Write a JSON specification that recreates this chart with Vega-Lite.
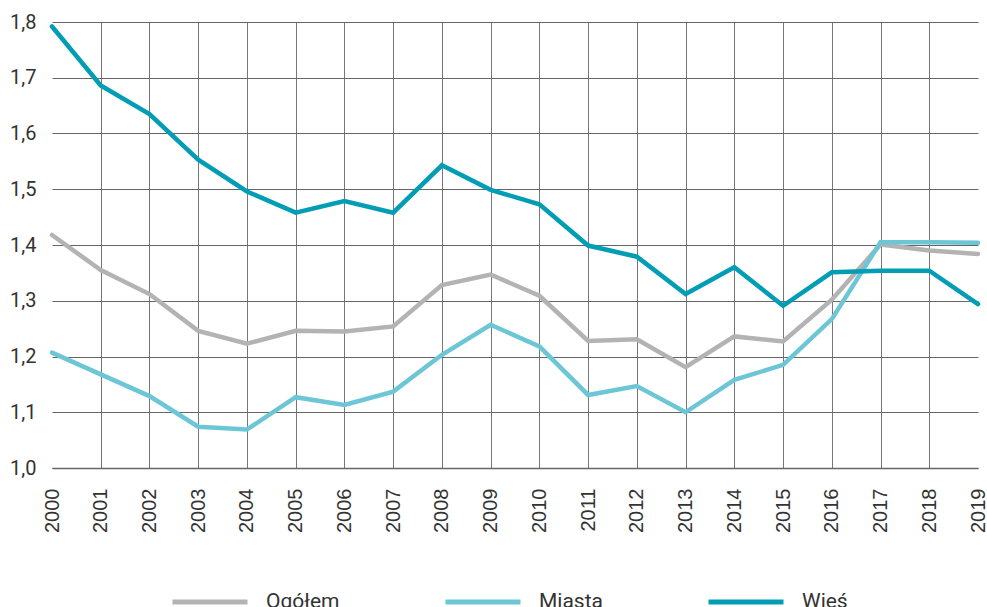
{
  "$schema": "https://vega.github.io/schema/vega-lite/v6.json",
  "autosize": {"type": "none"},
  "padding": {"left": 52, "top": 22, "right": 9, "bottom": 139},
  "width": 926,
  "height": 446,
  "background": "white",
  "data": {
    "values": [
      {"rok": 2000, "seria": "Ogółem", "wartosc": 1.418},
      {"rok": 2001, "seria": "Ogółem", "wartosc": 1.355},
      {"rok": 2002, "seria": "Ogółem", "wartosc": 1.312},
      {"rok": 2003, "seria": "Ogółem", "wartosc": 1.246},
      {"rok": 2004, "seria": "Ogółem", "wartosc": 1.223},
      {"rok": 2005, "seria": "Ogółem", "wartosc": 1.246},
      {"rok": 2006, "seria": "Ogółem", "wartosc": 1.245},
      {"rok": 2007, "seria": "Ogółem", "wartosc": 1.254},
      {"rok": 2008, "seria": "Ogółem", "wartosc": 1.328},
      {"rok": 2009, "seria": "Ogółem", "wartosc": 1.347},
      {"rok": 2010, "seria": "Ogółem", "wartosc": 1.309},
      {"rok": 2011, "seria": "Ogółem", "wartosc": 1.228},
      {"rok": 2012, "seria": "Ogółem", "wartosc": 1.231},
      {"rok": 2013, "seria": "Ogółem", "wartosc": 1.181},
      {"rok": 2014, "seria": "Ogółem", "wartosc": 1.236},
      {"rok": 2015, "seria": "Ogółem", "wartosc": 1.227},
      {"rok": 2016, "seria": "Ogółem", "wartosc": 1.302},
      {"rok": 2017, "seria": "Ogółem", "wartosc": 1.401},
      {"rok": 2018, "seria": "Ogółem", "wartosc": 1.390},
      {"rok": 2019, "seria": "Ogółem", "wartosc": 1.384},
      {"rok": 2000, "seria": "Miasta", "wartosc": 1.207},
      {"rok": 2001, "seria": "Miasta", "wartosc": 1.168},
      {"rok": 2002, "seria": "Miasta", "wartosc": 1.129},
      {"rok": 2003, "seria": "Miasta", "wartosc": 1.074},
      {"rok": 2004, "seria": "Miasta", "wartosc": 1.069},
      {"rok": 2005, "seria": "Miasta", "wartosc": 1.127},
      {"rok": 2006, "seria": "Miasta", "wartosc": 1.113},
      {"rok": 2007, "seria": "Miasta", "wartosc": 1.137},
      {"rok": 2008, "seria": "Miasta", "wartosc": 1.203},
      {"rok": 2009, "seria": "Miasta", "wartosc": 1.257},
      {"rok": 2010, "seria": "Miasta", "wartosc": 1.218},
      {"rok": 2011, "seria": "Miasta", "wartosc": 1.131},
      {"rok": 2012, "seria": "Miasta", "wartosc": 1.147},
      {"rok": 2013, "seria": "Miasta", "wartosc": 1.100},
      {"rok": 2014, "seria": "Miasta", "wartosc": 1.158},
      {"rok": 2015, "seria": "Miasta", "wartosc": 1.185},
      {"rok": 2016, "seria": "Miasta", "wartosc": 1.267},
      {"rok": 2017, "seria": "Miasta", "wartosc": 1.405},
      {"rok": 2018, "seria": "Miasta", "wartosc": 1.405},
      {"rok": 2019, "seria": "Miasta", "wartosc": 1.404},
      {"rok": 2000, "seria": "Wieś", "wartosc": 1.792},
      {"rok": 2001, "seria": "Wieś", "wartosc": 1.686},
      {"rok": 2002, "seria": "Wieś", "wartosc": 1.635},
      {"rok": 2003, "seria": "Wieś", "wartosc": 1.553},
      {"rok": 2004, "seria": "Wieś", "wartosc": 1.496},
      {"rok": 2005, "seria": "Wieś", "wartosc": 1.458},
      {"rok": 2006, "seria": "Wieś", "wartosc": 1.479},
      {"rok": 2007, "seria": "Wieś", "wartosc": 1.458},
      {"rok": 2008, "seria": "Wieś", "wartosc": 1.543},
      {"rok": 2009, "seria": "Wieś", "wartosc": 1.499},
      {"rok": 2010, "seria": "Wieś", "wartosc": 1.473},
      {"rok": 2011, "seria": "Wieś", "wartosc": 1.399},
      {"rok": 2012, "seria": "Wieś", "wartosc": 1.379},
      {"rok": 2013, "seria": "Wieś", "wartosc": 1.312},
      {"rok": 2014, "seria": "Wieś", "wartosc": 1.360},
      {"rok": 2015, "seria": "Wieś", "wartosc": 1.291},
      {"rok": 2016, "seria": "Wieś", "wartosc": 1.351},
      {"rok": 2017, "seria": "Wieś", "wartosc": 1.354},
      {"rok": 2018, "seria": "Wieś", "wartosc": 1.354},
      {"rok": 2019, "seria": "Wieś", "wartosc": 1.294}
    ]
  },
  "mark": {"type": "line", "strokeWidth": 4.5, "strokeCap": "round", "strokeJoin": "miter", "clip": false},
  "encoding": {
    "x": {
      "field": "rok",
      "type": "quantitative",
      "scale": {"domain": [2000, 2019], "nice": false, "zero": false},
      "axis": {
        "title": null,
        "values": [2000, 2001, 2002, 2003, 2004, 2005, 2006, 2007, 2008, 2009, 2010, 2011, 2012, 2013, 2014, 2015, 2016, 2017, 2018, 2019],
        "format": "d",
        "labelAngle": -90,
        "labelAlign": "right",
        "labelBaseline": "middle",
        "labelFont": "Liberation Sans",
        "labelFontSize": 20,
        "labelColor": "#333333",
        "labelPadding": 20,
        "ticks": false,
        "domain": true,
        "domainColor": "#666666",
        "domainWidth": 1.5,
        "grid": true,
        "gridColor": "#777777",
        "gridWidth": 1,
        "gridOpacity": {"condition": {"test": "datum.value == 2000 || datum.value == 2019", "value": 0}, "value": 1},
        "labelOverlap": false,
        "labelFlush": false
      }
    },
    "y": {
      "field": "wartosc",
      "type": "quantitative",
      "scale": {"domain": [1.0, 1.8], "nice": false, "zero": false},
      "axis": {
        "title": null,
        "values": [1.0, 1.1, 1.2, 1.3, 1.4, 1.5, 1.6, 1.7, 1.8],
        "labelExpr": "replace(format(datum.value, '.1f'), '.', ',')",
        "labelFont": "Roboto",
        "labelFontSize": 20,
        "labelColor": "#333333",
        "labelPadding": 16,
        "ticks": false,
        "domain": false,
        "grid": true,
        "gridColor": "#666666",
        "gridWidth": 1,
        "labelFlush": false
      }
    },
    "color": {
      "field": "seria",
      "type": "nominal",
      "scale": {"domain": ["Ogółem", "Miasta", "Wieś"], "range": ["#b3b3b3", "#6cc6d6", "#009db5"]},
      "legend": {
        "title": null,
        "orient": "none",
        "direction": "horizontal",
        "legendX": 118,
        "legendY": 540,
        "symbolType": "stroke",
        "symbolSize": 5625,
        "symbolStrokeWidth": 5,
        "labelFont": "Roboto",
        "labelFontSize": 21,
        "labelColor": "#333333",
        "labelOffset": 16,
        "columnPadding": 95
      }
    },
    "order": {"field": "seria", "sort": "descending"}
  },
  "config": {"view": {"stroke": null}}
}
